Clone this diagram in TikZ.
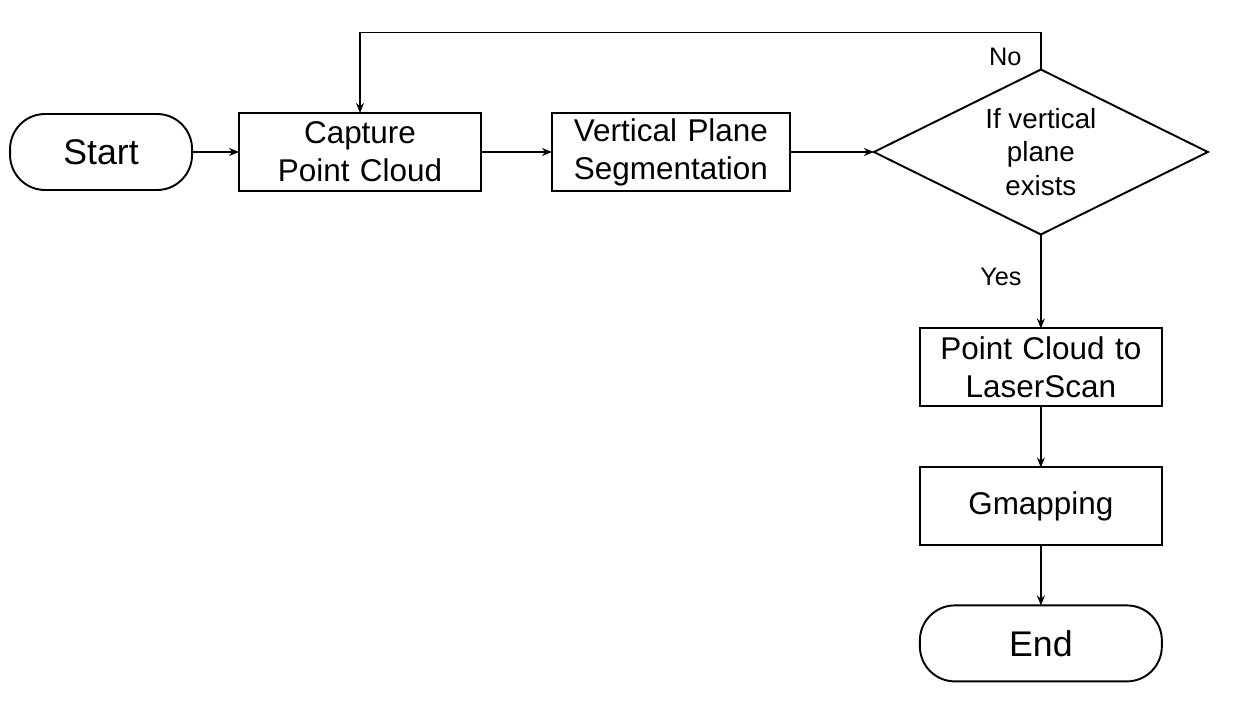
\documentclass[tikz,border=0pt]{standalone}
\usepackage{fontspec}
\setmainfont{Liberation Sans}
\usetikzlibrary{positioning, shapes.geometric, arrows.meta}

\begin{document}
\begin{tikzpicture}[
    x=0.02cm, y=-0.02cm,
    node distance=1.2cm,
    box/.style={rectangle, draw, line width=1.1pt, outer sep=0pt, minimum width=4.84cm, minimum height=1.56cm, text width=4.7cm, align=center, inner sep=0pt, font=\fontsize{17.9}{21.5}\selectfont},
    term/.style={box, rounded corners=0.7cm, font=\fontsize{20.3}{22}\selectfont},
    decision/.style={diamond, aspect=2, draw, line width=1.1pt, outer sep=0pt, minimum width=6.68cm, minimum height=3.3cm, inner sep=0pt, align=center, font=\fontsize{15.8}{19.2}\selectfont},
    flow/.style={-{Stealth[length=2mm, width=1.6mm]}, line width=1.1pt},
    lbl/.style={font=\fontsize{14.4}{16}\selectfont}
]
\useasboundingbox (0,0) rectangle (1248,709);

\node[box] (capture) at (360,152) {Capture\\Point Cloud};
\node[box, minimum width=4.76cm, right=1.42cm of capture] (segment) {Vertical Plane\\Segmentation};
\node[term, minimum width=3.64cm, minimum height=1.52cm, text width=3.3cm, left=0.94cm of capture] (start) {Start};
\node[decision, right=1.68cm of segment] (check) {If vertical\\plane\\exists};
\node[box, below=1.88cm of check] (convert) {Point Cloud to\\LaserScan};
\node[box, below=1.22cm of convert] (gmap) {Gmapping};
\node[term, minimum height=1.52cm, below=1.2cm of gmap] (end) {End};

\draw[flow] (start) -- (capture);
\draw[flow] (capture) -- (segment);
\draw[flow] (segment) -- (check);
\draw[flow] (check.north) -- node[lbl, left=0.25cm, pos=0.35] {No} ++(0,-37) -| (capture.north);
\draw[flow] (check.south) -- node[lbl, left=0.25cm, pos=0.45] {Yes} (convert);
\draw[flow] (convert) -- (gmap);
\draw[flow] (gmap) -- (end);

\end{tikzpicture}
\end{document}
